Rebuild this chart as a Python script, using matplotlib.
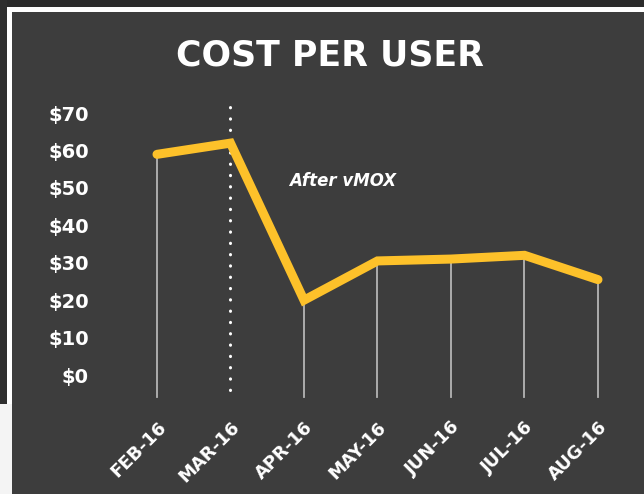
import matplotlib
matplotlib.use("Agg")
import matplotlib.pyplot as plt
from matplotlib.patches import Rectangle

months = ["FEB-16", "MAR-16", "APR-16", "MAY-16", "JUN-16", "JUL-16", "AUG-16"]
cost = [59, 62, 20, 30.5, 31, 32, 25.5]
ytick_vals = [0, 10, 20, 30, 40, 50, 60, 70]
ytick_labels = ["$" + str(v) for v in ytick_vals]
divider_month = "MAR-16"
note = "After vMOX"

W, H = 644, 494
BG = "#3d3d3d"
YELLOW = "#fdc12a"
FONT = "DejaVu Sans"


def px(x, y, w, h):
    # pixel box (from top-left) -> figure fraction box
    return (x / W, 1 - (y + h) / H, w / W, h / H)


fig = plt.figure(figsize=(W / 100, H / 100), dpi=100, facecolor=BG)

# frame around the slide
for (x, y, w, h), c in [
    ((0, 0, W, 7), "#2b2b2b"),
    ((0, 0, 7, 404), "#2f2f2f"),
    ((7, 7, W - 7, 5), "white"),
    ((7, 7, 5, H - 7), "white"),
    ((0, 404, 12, H - 404), "#f4f4f4"),
]:
    fx, fy, fw, fh = px(x, y, w, h)
    fig.patches.append(Rectangle((fx, fy), fw, fh, transform=fig.transFigure,
                                 facecolor=c, edgecolor="none", zorder=0))

fig.text(330 / W, 1 - 55 / H, "COST PER USER", ha="center", va="center",
         color="white", fontsize=25, fontweight="bold", family=FONT)

# axes placed so that categories and $ ticks land where the slide has them
left_px, right_px, top_px, bot_px = 100, 635, 100, 400
ax = fig.add_axes(px(left_px, top_px, right_px - left_px, bot_px - top_px))
ax.set_facecolor("none")
x0, dx = 157, 73.5
ax.set_xlim((left_px - x0) / dx, (right_px - x0) / dx)
y0, dy = 375, 3.74
ax.set_ylim(-(bot_px - y0) / dy, (y0 - top_px) / dy)

xs = list(range(len(months)))
div_idx = months.index(divider_month)
drop_bottom = -5.9
for i, v in zip(xs, cost):
    if i == div_idx:
        continue
    ax.plot([i, i], [drop_bottom, v], color="#b5b5b5", lw=1.3, zorder=1)

ax.plot([div_idx, div_idx], [-4, 72.5], color="white", lw=2.2,
        linestyle=(0, (0.1, 3.6)), dash_capstyle="round", zorder=1)

ax.plot(xs, cost, color=YELLOW, lw=6.5, solid_capstyle="round",
        solid_joinstyle="miter", zorder=3)

ax.text(div_idx + 0.8, 52, note, color="white", fontsize=12,
        fontweight="bold", style="italic", family=FONT, va="center")

ax.set_yticks(ytick_vals)
ax.set_yticklabels(ytick_labels, fontsize=14, fontweight="bold",
                   color="white", family=FONT)
ax.set_xticks(xs)
ax.set_xticklabels(months, rotation=45, ha="right", rotation_mode="anchor",
                   fontsize=13, fontweight="bold", color="white", family=FONT)
ax.tick_params(axis="y", length=0, pad=8)
ax.tick_params(axis="x", length=0, pad=13)
for s in ax.spines.values():
    s.set_visible(False)

fig.savefig("out.png", dpi=100, facecolor=BG)
